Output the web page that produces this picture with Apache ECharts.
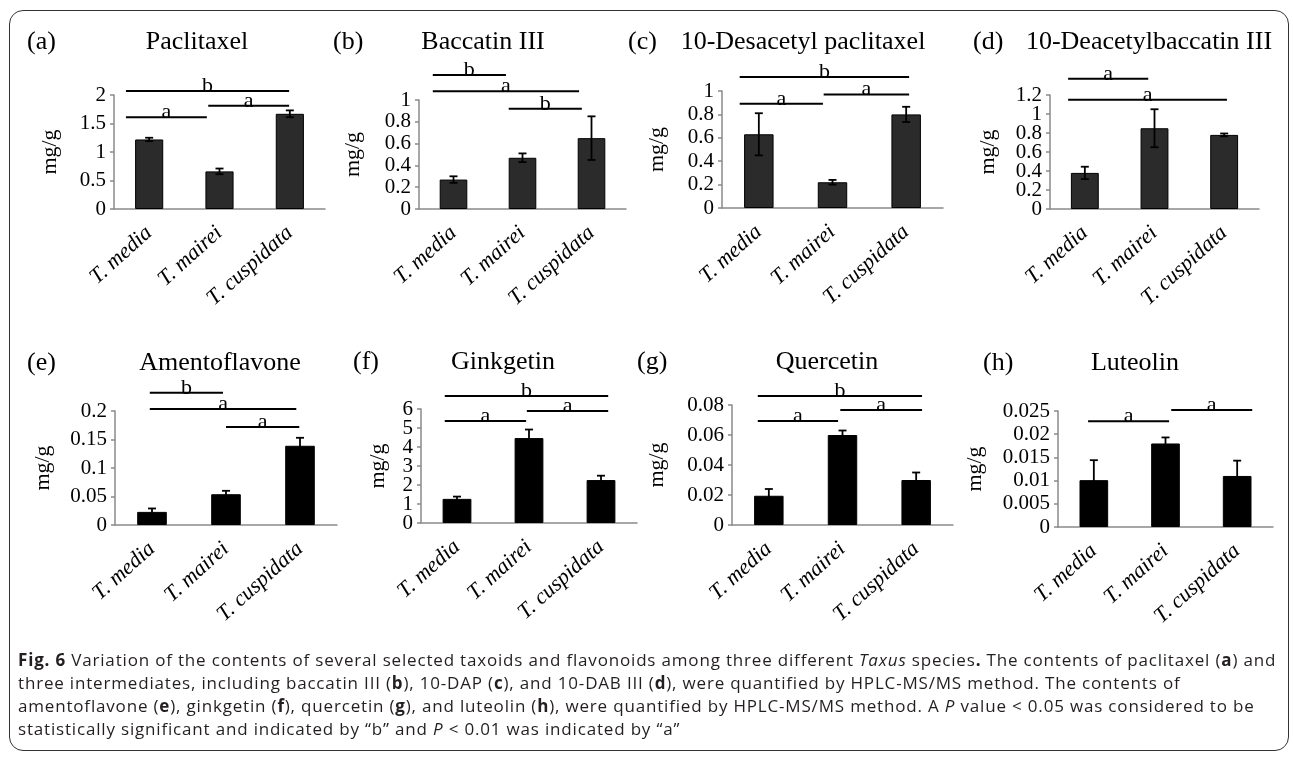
<!DOCTYPE html>
<html>
<head>
<meta charset="utf-8">
<script src="https://cdn.jsdelivr.net/npm/echarts@6/dist/echarts.min.js"></script>
<style>
  html, body { margin: 0; padding: 0; background: #fff; }
  .page { position: relative; width: 1293px; height: 757px; overflow: hidden; }
  .frame {
    position: absolute; left: 9px; top: 10px; width: 1278px; height: 739px;
    border: 1.5px solid #333; border-radius: 14px;
  }
  #chart { position: absolute; left: 0; top: 0; width: 1293px; height: 757px; }
  .caption {
    position: absolute; left: 18px; top: 648px;
    font-family: 'Open Sans', sans-serif; font-size: 17px; line-height: 23px;
    letter-spacing: 0.82px;
    color: #231f20; white-space: nowrap;
  }
</style>
</head>
<body>
<div class="page">
  <div class="frame"></div>
  <div id="chart"></div>
  <div class="caption">
    <b>Fig. 6</b> Variation of the contents of several selected taxoids and flavonoids among three different <i>Taxus</i> species<b>.</b> The contents of paclitaxel (<b>a</b>) and<br>
    three intermediates, including baccatin III (<b>b</b>), 10-DAP (<b>c</b>), and 10-DAB III (<b>d</b>), were quantified by HPLC-MS/MS method. The contents of<br>
    amentoflavone (<b>e</b>), ginkgetin (<b>f</b>), quercetin (<b>g</b>), and luteolin (<b>h</b>), were quantified by HPLC-MS/MS method. A <i>P</i> value &lt; 0.05 was considered to be<br>
    statistically significant and indicated by “b” and <i>P</i> &lt; 0.01 was indicated by “a”
  </div>
</div>
<script>
const categories = ['T. media', 'T. mairei', 'T. cuspidata']

// 各面板数值 (mg/g) 和误差
const paclitaxel = [1.22, 0.66, 1.67]
const paclitaxelErr = [0.03, 0.05, 0.06]
const baccatin = [0.27, 0.47, 0.65]
const baccatinErr = [0.03, 0.04, 0.2]
const desacetylPaclitaxel = [0.63, 0.22, 0.80]
const desacetylPaclitaxelErr = [0.18, 0.02, 0.065]
const deacetylBaccatin = [0.38, 0.85, 0.78]
const deacetylBaccatinErr = [0.065, 0.2, 0.015]
const amentoflavone = [0.023, 0.054, 0.139]
const amentoflavoneErr = [0.006, 0.006, 0.014]
const ginkgetin = [1.27, 4.47, 2.26]
const ginkgetinErr = [0.12, 0.45, 0.23]
const quercetin = [0.0195, 0.06, 0.03]
const quercetinErr = [0.0045, 0.003, 0.005]
const luteolin = [0.0101, 0.018, 0.011]
const luteolinErr = [0.0043, 0.0013, 0.0033]

// y 轴刻度标签
const ticksA = [0, 0.5, 1, 1.5, 2]
const ticksB = [0, 0.2, 0.4, 0.6, 0.8, 1]
const ticksC = [0, 0.2, 0.4, 0.6, 0.8, 1]
const ticksD = [0, 0.2, 0.4, 0.6, 0.8, 1, 1.2]
const ticksE = [0, 0.05, 0.1, 0.15, 0.2]
const ticksF = [0, 1, 2, 3, 4, 5, 6]
const ticksG = [0, 0.02, 0.04, 0.06, 0.08]
const ticksH = [0, 0.005, 0.01, 0.015, 0.02, 0.025]

// 显著性标记 [起点(类别), 终点(类别), y 值, 字母]
const sigA = [[-0.33, 1.99, 2.07, 'b'], [-0.33, 0.82, 1.61, 'a'], [0.84, 1.99, 1.81, 'a']]
const sigB = [[-0.30, 0.76, 1.23, 'b'], [-0.30, 1.82, 1.08, 'a'], [0.80, 1.86, 0.92, 'b']]
const sigC = [[-0.26, 2.04, 1.12, 'b'], [-0.26, 0.87, 0.89, 'a'], [0.88, 2.04, 0.97, 'a']]
const sigD = [[-0.24, 0.91, 1.37, 'a'], [-0.24, 2.04, 1.15, 'a']]
const sigE = [[-0.03, 0.96, 0.232, 'b'], [-0.03, 1.95, 0.2035, 'a'], [1.0, 1.99, 0.172, 'a']]
const sigF = [[-0.17, 0.96, 5.37, 'a'], [-0.17, 2.10, 6.68, 'b'], [0.97, 2.10, 5.89, 'a']]
const sigG = [[-0.15, 0.94, 0.0693, 'a'], [-0.15, 2.08, 0.086, 'b'], [0.97, 2.08, 0.0767, 'a']]
const sigH = [[-0.08, 1.05, 0.0228, 'a'], [1.08, 2.21, 0.0252, 'a']]

const panels = [
  { tag: '(a)', name: 'Paclitaxel', values: paclitaxel, errs: paclitaxelErr, ticks: ticksA, sig: sigA },
  { tag: '(b)', name: 'Baccatin III', values: baccatin, errs: baccatinErr, ticks: ticksB, sig: sigB },
  { tag: '(c)', name: '10-Desacetyl paclitaxel', values: desacetylPaclitaxel, errs: desacetylPaclitaxelErr, ticks: ticksC, sig: sigC },
  { tag: '(d)', name: '10-Deacetylbaccatin III', values: deacetylBaccatin, errs: deacetylBaccatinErr, ticks: ticksD, sig: sigD },
  { tag: '(e)', name: 'Amentoflavone', values: amentoflavone, errs: amentoflavoneErr, ticks: ticksE, sig: sigE },
  { tag: '(f)', name: 'Ginkgetin', values: ginkgetin, errs: ginkgetinErr, ticks: ticksF, sig: sigF },
  { tag: '(g)', name: 'Quercetin', values: quercetin, errs: quercetinErr, ticks: ticksG, sig: sigG },
  { tag: '(h)', name: 'Luteolin', values: luteolin, errs: luteolinErr, ticks: ticksH, sig: sigH }
]

// 布局: 网格位置, 标题位置, y 轴名称间距
const layout = [
  { left: 114, top: 95, width: 211, height: 114, tagX: 27, nameX: 197, titleY: 42, nameGap: 53, bar: '#2b2b2b' },
  { left: 419, top: 100, width: 207, height: 109, tagX: 333, nameX: 483, titleY: 42, nameGap: 55, bar: '#2b2b2b' },
  { left: 722, top: 91, width: 221, height: 117, tagX: 628, nameX: 803, titleY: 42, nameGap: 54, bar: '#2b2b2b' },
  { left: 1050, top: 95, width: 209, height: 114, tagX: 973, nameX: 1149, titleY: 42, nameGap: 51, bar: '#2b2b2b' },
  { left: 115, top: 411, width: 222, height: 114, tagX: 27, nameX: 220, titleY: 363, nameGap: 61, bar: '#000' },
  { left: 421, top: 409, width: 216, height: 114, tagX: 353, nameX: 503, titleY: 362, nameGap: 32, bar: '#000' },
  { left: 732, top: 405, width: 221, height: 120, tagX: 637, nameX: 827, titleY: 362, nameGap: 64, bar: '#000' },
  { left: 1058, top: 411, width: 215, height: 116, tagX: 983, nameX: 1135, titleY: 363, nameGap: 72, bar: '#000' }
]

const serif = "'Liberation Serif', 'Times New Roman', serif"
const axisGray = '#8a8a8a'

const grid = []
const xAxis = []
const yAxis = []
const series = []
const graphic = []

panels.forEach((p, i) => {
  const L = layout[i]
  const t = p.ticks
  grid.push({ left: L.left, top: L.top, width: L.width, height: L.height, containLabel: false })
  xAxis.push({
    type: 'category',
    gridIndex: i,
    data: categories,
    axisLine: { lineStyle: { color: axisGray, width: 1.5 } },
    axisTick: { lineStyle: { color: axisGray, width: 1.5 }, length: 5 },
    axisLabel: {
      interval: 0,
      rotate: 42,
      margin: 21,
      color: '#000',
      fontFamily: serif,
      fontStyle: 'italic',
      fontSize: 22
    }
  })
  yAxis.push({
    type: 'value',
    gridIndex: i,
    min: t[0],
    max: t[t.length - 1],
    interval: t[1] - t[0],
    name: 'mg/g',
    nameLocation: 'middle',
    nameRotate: 90,
    nameGap: L.nameGap,
    nameTextStyle: { color: '#000', fontFamily: serif, fontSize: 22 },
    axisLine: { show: true, lineStyle: { color: axisGray, width: 1.5 } },
    axisTick: { show: true, length: 4, lineStyle: { color: axisGray, width: 1.5 } },
    splitLine: { show: false },
    // 刻度很密, 自带标签会被自动隐藏, 所以下面用自定义系列画
    axisLabel: { show: false }
  })
  series.push({
    type: 'bar',
    xAxisIndex: i,
    yAxisIndex: i,
    barWidth: '40%',
    data: p.values,
    itemStyle: { color: L.bar, borderColor: '#000', borderWidth: 1 },
    silent: true
  })
  // y 轴刻度标签
  series.push({
    type: 'custom',
    xAxisIndex: i,
    yAxisIndex: i,
    data: t.map(v => [0, v]),
    encode: { x: 0, y: 1 },
    renderItem: (params, api) => {
      const v = t[params.dataIndex]
      const c = api.coord([0, v])
      const w = api.size([1, 0])[0]
      return {
        type: 'text',
        x: c[0] - w / 2 - 8,
        y: c[1],
        style: {
          text: String(v),
          font: '21px ' + serif,
          fill: '#000',
          textAlign: 'right',
          textVerticalAlign: 'middle'
        }
      }
    },
    silent: true
  })
  // 误差线
  series.push({
    type: 'custom',
    xAxisIndex: i,
    yAxisIndex: i,
    data: p.values.map((v, k) => [k, v, p.errs[k]]),
    encode: { x: 0, y: 1 },
    renderItem: (params, api) => {
      const k = api.value(0)
      const v = api.value(1)
      const e = api.value(2)
      const top = api.coord([k, v + e])
      const bot = api.coord([k, v - e])
      const cap = 4
      const style = { stroke: '#000', lineWidth: 1.8 }
      return {
        type: 'group',
        children: [
          { type: 'line', shape: { x1: top[0], y1: top[1], x2: bot[0], y2: bot[1] }, style },
          { type: 'line', shape: { x1: top[0] - cap, y1: top[1], x2: top[0] + cap, y2: top[1] }, style },
          { type: 'line', shape: { x1: bot[0] - cap, y1: bot[1], x2: bot[0] + cap, y2: bot[1] }, style }
        ]
      }
    },
    z: 5,
    silent: true
  })
  // 显著性横线和字母
  series.push({
    type: 'custom',
    xAxisIndex: i,
    yAxisIndex: i,
    data: p.sig.map(s => [0, s[2]]),
    encode: { x: 0, y: 1 },
    renderItem: (params, api) => {
      const s = p.sig[params.dataIndex]
      const c0 = api.coord([0, s[2]])
      const w = api.size([1, 0])[0]
      const x1 = c0[0] + s[0] * w
      const x2 = c0[0] + s[1] * w
      const y = c0[1]
      return {
        type: 'group',
        children: [
          { type: 'line', shape: { x1, y1: y, x2, y2: y }, style: { stroke: '#000', lineWidth: 2 } },
          {
            type: 'text',
            x: (x1 + x2) / 2,
            y: y + 6,
            style: {
              text: s[3],
              font: '22px ' + serif,
              fill: '#000',
              textAlign: 'center',
              textVerticalAlign: 'bottom'
            }
          }
        ]
      }
    },
    z: 6,
    silent: true
  })
  graphic.push({
    type: 'text',
    x: L.tagX,
    y: L.titleY,
    style: { text: p.tag, font: '26px ' + serif, fill: '#000', textAlign: 'left', textVerticalAlign: 'middle' }
  })
  graphic.push({
    type: 'text',
    x: L.nameX,
    y: L.titleY,
    style: { text: p.name, font: '26px ' + serif, fill: '#000', textAlign: 'center', textVerticalAlign: 'middle' }
  })
})

const chart = echarts.init(document.getElementById('chart'), null, { renderer: 'canvas' })
chart.setOption({
  animation: false,
  grid,
  xAxis,
  yAxis,
  series,
  graphic
})
</script>
</body>
</html>
